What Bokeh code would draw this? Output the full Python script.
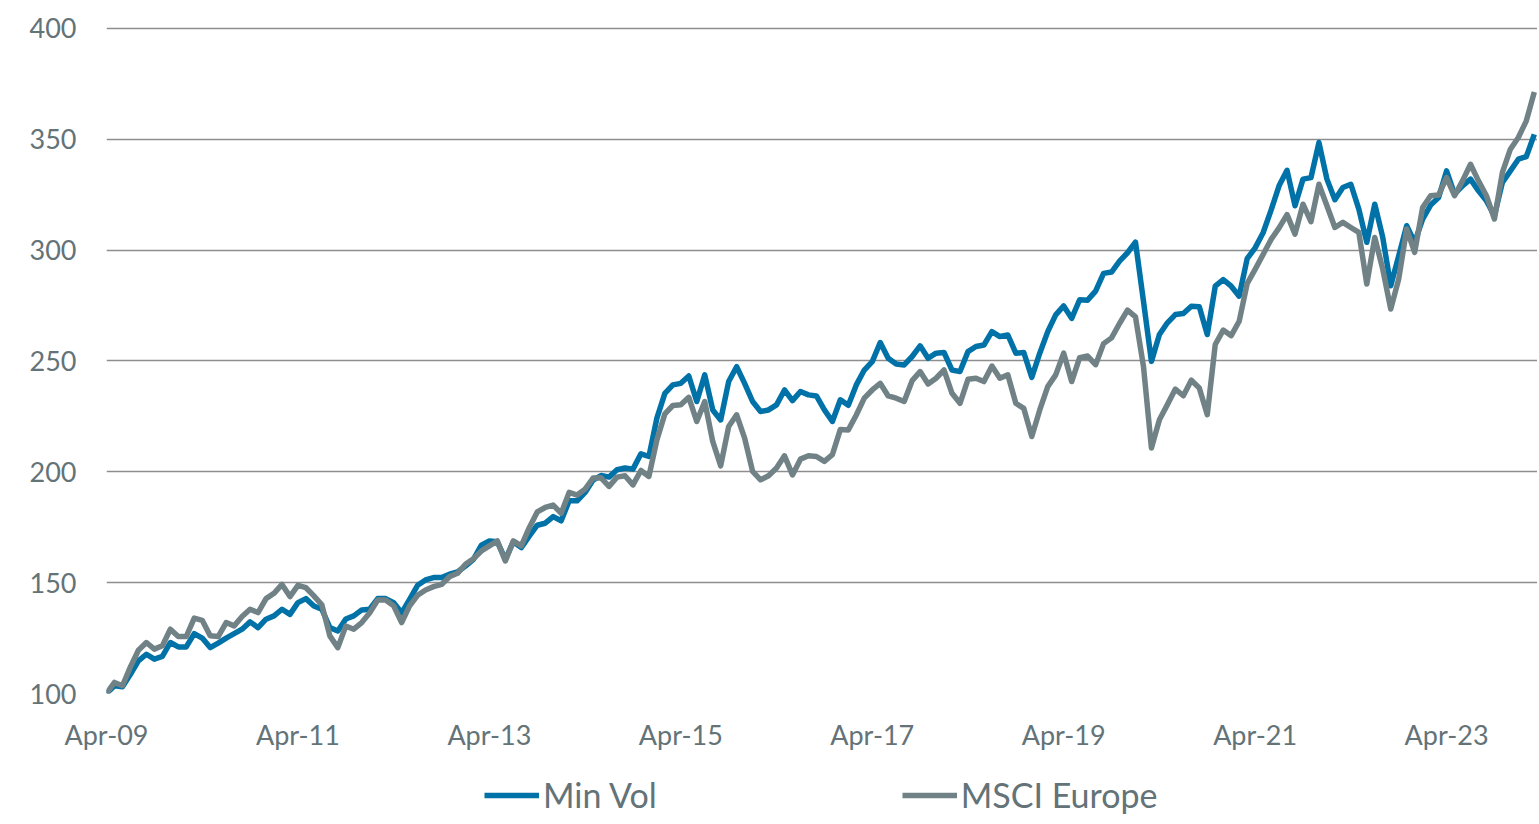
from bokeh.plotting import figure
from bokeh.models import Range1d, FixedTicker, Legend, LegendItem
from bokeh.layouts import column
from bokeh.embed import file_html
from bokeh.resources import INLINE

# Monthly index values, Apr-09 .. Mar-24 (rebased to 100)
min_vol = [
    100, 103.5, 103, 108.7, 114.7, 117.7, 115.5, 116.7, 123, 121,
    121, 127, 125, 120.7, 122.7, 125, 127, 129, 132.3, 129.7,
    133.5, 135, 138, 135.7, 141, 142.8, 139.5, 138, 129.7, 128.2,
    133.6, 135, 137.7, 138, 142.8, 142.8, 141, 136.4, 142.5, 148.8,
    151.2, 152.3, 152.3, 153.8, 154.8, 157.5, 160.5, 166.9, 168.8, 168.4,
    160.5, 168.4, 165.8, 171, 175.9, 176.8, 179.8, 177.9, 186.9, 186.9,
    190.7, 196.3, 198.3, 197.6, 200.9, 201.7, 201.2, 208.1, 206.9, 224.2,
    235.4, 239.2, 239.9, 243.2, 231.7, 243.7, 227.9, 223.4, 240.7, 247.4,
    239.9, 231.7, 227.2, 227.9, 230.2, 236.9, 232.1, 236.2, 234.7, 234.2,
    227.9, 222.7, 232.5, 230, 239.2, 245.9, 249.7, 258.3, 251.2, 248.6,
    248.2, 252, 256.8, 251.2, 253.5, 253.8, 245.9, 245.2, 254.2, 256.5,
    257.2, 263.2, 261, 261.7, 253.5, 253.8, 242.6, 253.5, 263.2, 270.8,
    274.8, 269.2, 277.6, 277.4, 281.5, 289.5, 290.1, 295, 298.8, 303.6,
    277, 249.8, 261.9, 267.2, 270.9, 271.4, 274.7, 274.4, 261.9, 283.7,
    286.7, 283.7, 279.2, 296.1, 301, 307.8, 318, 329, 336, 320,
    332, 332.7, 348.5, 332, 322.7, 328.2, 329.7, 318.5, 303.5, 320.7,
    305.7, 283.9, 297.4, 311, 303.5, 314, 320.3, 323.7, 335.7, 325.2,
    329, 332, 326.7, 322.2, 315.5, 330.5, 335.7, 341, 342.2, 352.2,
]

msci_europe = [
    100, 105, 103.5, 112, 119.5, 123, 120, 121.5, 129, 125.7,
    125.7, 134, 133, 126, 125.7, 132, 130.5, 134.7, 138, 136.5,
    142.8, 145.2, 149.2, 143.7, 148.8, 147.7, 144, 140, 126, 120.7,
    130.4, 129, 132, 136.4, 142.2, 142.2, 139.5, 132, 139.5, 144.3,
    146.7, 148.2, 149.2, 152.7, 154.2, 158.3, 160.8, 164.3, 166.6, 168.8,
    159.8, 168.8, 166.6, 174.8, 181.9, 183.9, 185, 181.3, 190.7, 189.5,
    192.2, 197.2, 197.3, 193.4, 197.6, 198.2, 194.1, 200.6, 197.9, 214.4,
    226.1, 229.9, 230.2, 233.6, 222.7, 231.7, 213.7, 202.7, 220.4, 225.7,
    215.2, 200.2, 196.4, 198.2, 201.7, 207.2, 198.6, 205.7, 207.2, 206.9,
    204.7, 207.7, 219.1, 218.9, 225.6, 233.2, 236.9, 239.9, 234.2, 233.2,
    231.7, 241.1, 245.2, 239.6, 242.2, 245.9, 235.4, 230.9, 241.7, 242.2,
    240.7, 247.7, 242.2, 243.7, 230.9, 228.6, 215.9, 227.9, 238.4, 243.7,
    253.5, 240.7, 251.5, 252.2, 248.3, 257.8, 260.4, 266.9, 272.9, 269.9,
    247.6, 210.7, 223.5, 230.3, 237.3, 234.3, 241.3, 237.8, 225.8, 257.4,
    263.9, 261.4, 267.9, 284.9, 291.3, 298, 304.8, 310, 316, 307.2,
    320.7, 312.8, 329.7, 320, 310.2, 312.5, 310.2, 308, 284.7, 305.7,
    291.4, 273.4, 286.9, 309.5, 299, 319.2, 324.5, 324.8, 332.7, 324.5,
    331.2, 338.7, 331.2, 324.5, 314, 335, 345.5, 350.8, 358.3, 371.3,
]

series_names = ["Min Vol", "MSCI Europe"]
months = list(range(len(min_vol)))  # 0 = Apr-09
tick_months = [0, 24, 48, 72, 96, 120, 144, 168]
tick_labels = ["Apr-09", "Apr-11", "Apr-13", "Apr-15", "Apr-17", "Apr-19", "Apr-21", "Apr-23"]
y_ticks = [100, 150, 200, 250, 300, 350, 400]

BLUE = "#0072a8"
GREY = "#718287"
TEXT = "#637378"
FONT = "Lato"
LW = 5.5

p = figure(frame_width=1431, frame_height=674, output_backend="svg", toolbar_location=None,
           x_range=Range1d(0, 179.4), y_range=Range1d(100, 404),
           min_border_left=106, min_border_right=0, min_border_top=19, min_border_bottom=70)
p.outline_line_color = None
p.background_fill_color = "white"
p.border_fill_color = "white"

p.line(months, min_vol, line_color=BLUE, line_width=LW, line_join="round")
p.line(months, msci_europe, line_color=GREY, line_width=LW, line_join="round")

p.xgrid.grid_line_color = None
p.ygrid.grid_line_color = "#8e8e8e"
p.ygrid.grid_line_width = 1.6
p.ygrid.ticker = FixedTicker(ticks=y_ticks)

p.yaxis.ticker = FixedTicker(ticks=y_ticks)
p.xaxis.ticker = FixedTicker(ticks=tick_months)
p.xaxis.major_label_overrides = {m: l for m, l in zip(tick_months, tick_labels)}

for ax in (p.xaxis, p.yaxis):
    ax.axis_line_color = None
    ax.major_tick_line_color = None
    ax.minor_tick_line_color = None
    ax.major_tick_out = 0
    ax.major_tick_in = 0
    ax.major_label_text_font = FONT
    ax.major_label_text_font_size = "27px"
    ax.major_label_text_color = TEXT
p.yaxis.major_label_standoff = 30
p.xaxis.major_label_standoff = 24

# Legend strip below the chart (its renderers use the same data, outside its view)
lg = figure(frame_width=1537, frame_height=60, output_backend="svg", toolbar_location=None,
            x_range=Range1d(0, 1), y_range=Range1d(0, 1), x_axis_type=None, y_axis_type=None,
            min_border=0)
lg.outline_line_color = None
lg.xgrid.grid_line_color = None
lg.ygrid.grid_line_color = None
g1 = lg.line(months, min_vol, line_color=BLUE, line_width=LW)
g2 = lg.line(months, msci_europe, line_color=GREY, line_width=LW)

legend = Legend(items=[LegendItem(label=series_names[0], renderers=[g1]),
                       LegendItem(label=series_names[1], renderers=[g2])],
                orientation="horizontal", location=(484, 8),
                glyph_width=55, glyph_height=30, label_standoff=4, spacing=245,
                padding=0, margin=0, border_line_color=None, background_fill_alpha=0,
                label_text_font=FONT, label_text_font_size="34px", label_text_color=TEXT,
                label_height=30)
lg.add_layout(legend)

layout = column(p, lg, spacing=0)
open("out.html", "w").write(file_html(layout, INLINE))
